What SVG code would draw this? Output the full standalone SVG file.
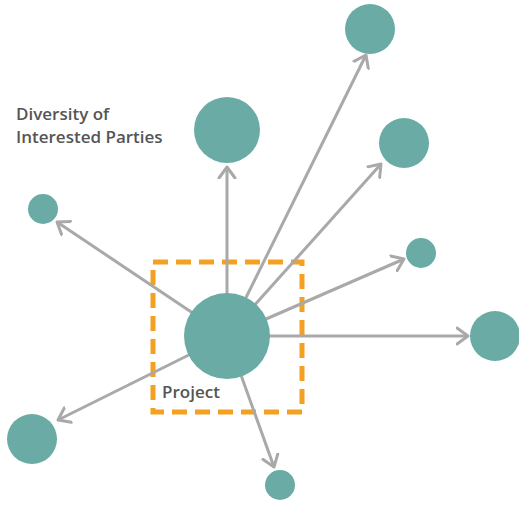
<svg xmlns="http://www.w3.org/2000/svg" width="519" height="505" viewBox="0 0 519 505">
<defs>
<marker id="ah" markerUnits="userSpaceOnUse" markerWidth="24" markerHeight="24" refX="12" refY="12" orient="auto" viewBox="0 0 24 24">
<path d="M1,4 L12,12 L1,20" fill="none" stroke="#a9a9a9" stroke-width="3" stroke-linecap="round" stroke-linejoin="round"/>
</marker>
<style>
.c{fill:#6aaca5}
.l{stroke:#a9a9a9;stroke-width:3;fill:none;marker-end:url(#ah)}
.t{font-family:"Open Sans","Liberation Sans",sans-serif;font-weight:600;font-size:17px;fill:#555}
</style>
</defs>
<rect width="519" height="505" fill="#fff"/>
<g id="box">
<rect x="153" y="262" width="149" height="150" fill="none" stroke="#f4a020" stroke-width="5" stroke-dasharray="15 8"/>
</g>
<g id="connectors">
<line class="l" x1="227" y1="336" x2="366" y2="55"/>
<line class="l" x1="227" y1="336" x2="227" y2="167"/>
<line class="l" x1="227" y1="336" x2="381" y2="164"/>
<line class="l" x1="227" y1="336" x2="57" y2="222"/>
<line class="l" x1="227" y1="336" x2="404" y2="259"/>
<line class="l" x1="227" y1="336" x2="468" y2="336"/>
<line class="l" x1="227" y1="336" x2="58" y2="420"/>
<line class="l" x1="227" y1="336" x2="274" y2="467"/>
</g>
<g id="project">
<circle class="c" cx="227" cy="336" r="43"/>
<text class="t" x="162" y="398">Project</text>
</g>
<g id="n1"><circle class="c" cx="370" cy="29" r="25"/></g>
<g id="n2"><circle class="c" cx="227" cy="130" r="33"/></g>
<g id="n3"><circle class="c" cx="404" cy="143" r="25"/></g>
<g id="n4"><circle class="c" cx="43" cy="209" r="15"/></g>
<g id="n5"><circle class="c" cx="421" cy="253" r="15"/></g>
<g id="n6"><circle class="c" cx="495" cy="336" r="25"/></g>
<g id="n7"><circle class="c" cx="32" cy="439" r="25"/></g>
<g id="n8"><circle class="c" cx="280" cy="485" r="15"/></g>
<g id="label">
<text class="t" x="16" y="120">Diversity of</text>
<text class="t" x="16" y="143">Interested Parties</text>
</g>
</svg>
